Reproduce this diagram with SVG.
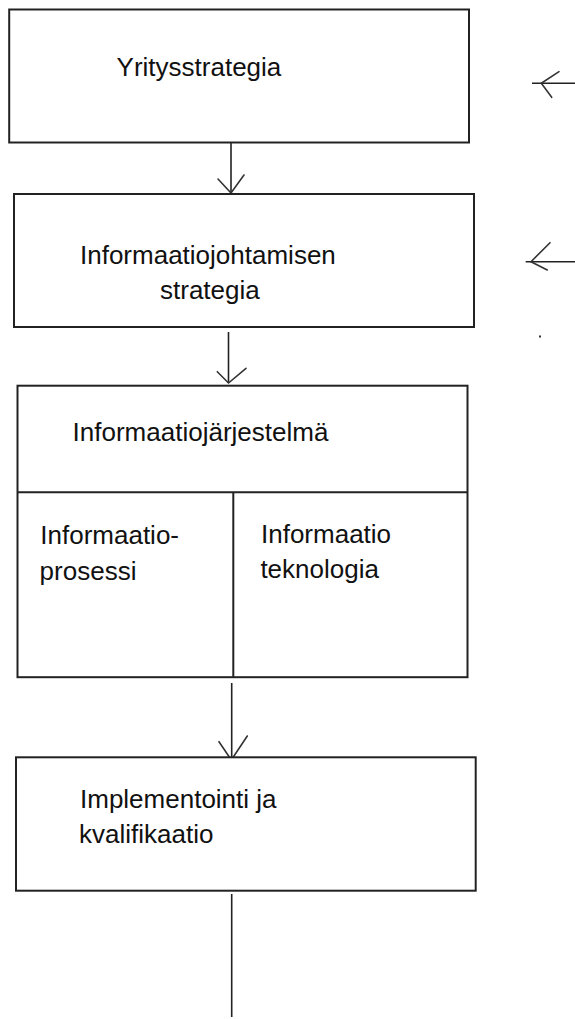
<svg xmlns="http://www.w3.org/2000/svg" width="575" height="1019" viewBox="0 0 575 1019">
<style>
.box{fill:#fff;stroke:#222;stroke-width:2}
.div{fill:none;stroke:#222;stroke-width:2}
.ln{fill:none;stroke:#222;stroke-width:1.6}
.hd{fill:none;stroke:#333;stroke-width:1.6;stroke-linecap:round}
.t{font-family:"Liberation Sans",Arial,sans-serif;font-size:26px;fill:#111}
</style>
<rect width="575" height="1019" fill="#fff"/>
<g id="connectors">
<path class="ln" d="M231 138V193"/>
<path class="hd" d="M218 179L231 193L244 175"/>
<path class="ln" d="M228.5 332V383"/>
<path class="hd" d="M217.3 371.7L228.5 383L246 368.3"/>
<path class="ln" d="M231.7 683V757"/>
<path class="hd" d="M219 741.7L229.3 757M247.3 736L233.3 757"/>
<path class="ln" d="M231.7 894V1017"/>
<path class="ln" d="M532 83.3H575"/>
<path class="hd" d="M559 71.7L541.3 83.3L551.7 97.3"/>
<path class="ln" d="M525.7 261.7H575"/>
<path class="hd" d="M550 242.7L531 261.7L547.3 270"/>
<rect x="539" y="335.5" width="2" height="2" fill="#333"/>
</g>
<g id="yritysstrategia">
<rect class="box" x="9.2" y="9.5" width="459.8" height="133"/>
<text class="t" x="116.6" y="76">Yritysstrategia</text>
</g>
<g id="informaatiojohtamisen-strategia">
<rect class="box" x="14" y="194" width="460" height="133"/>
<text class="t" x="80" y="264">Informaatiojohtamisen</text>
<text class="t" x="160" y="298.5">strategia</text>
</g>
<g id="informaatiojarjestelma">
<rect class="box" x="17.5" y="385.7" width="450" height="291.5"/>
<path class="div" d="M17.5 492.3H467.5M233.3 492.3V677.2"/>
<text class="t" x="72.6" y="440.7">Informaatiojärjestelmä</text>
<text class="t" x="40.3" y="544">Informaatio-</text>
<text class="t" x="39.6" y="580">prosessi</text>
<text class="t" x="261" y="543.3">Informaatio</text>
<text class="t" x="260.4" y="578.3">teknologia</text>
</g>
<g id="implementointi">
<rect class="box" x="16" y="757.3" width="459.7" height="133.4"/>
<text class="t" x="80" y="808.3">Implementointi ja</text>
<text class="t" x="79" y="843.3">kvalifikaatio</text>
</g>
</svg>
